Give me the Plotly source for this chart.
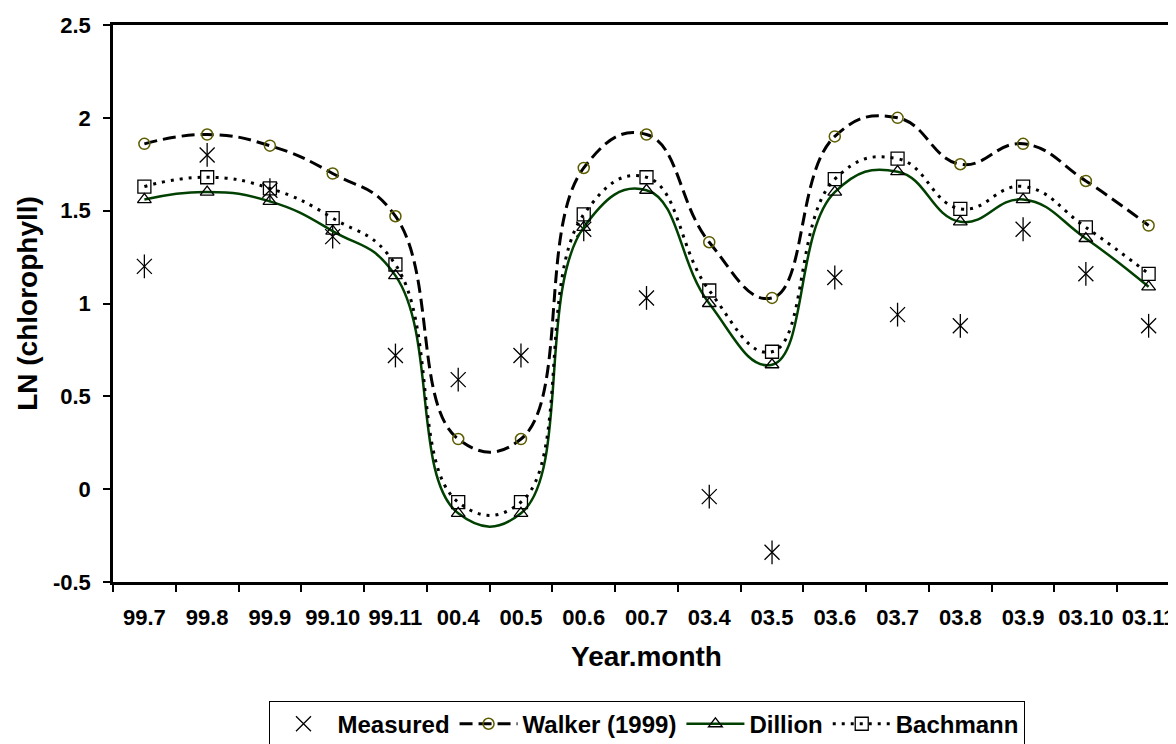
import plotly.graph_objects as go

categories = ["99.7", "99.8", "99.9", "99.10", "99.11", "00.4", "00.5", "00.6", "00.7",
              "03.4", "03.5", "03.6", "03.7", "03.8", "03.9", "03.10", "03.11"]
measured = [1.20, 1.80, 1.61, 1.36, 0.72, 0.59, 0.72, 1.40, 1.03,
            -0.04, -0.34, 1.14, 0.94, 0.88, 1.40, 1.16, 0.88]
walker = [1.86, 1.91, 1.85, 1.70, 1.47, 0.27, 0.27, 1.73, 1.91,
          1.33, 1.03, 1.90, 2.00, 1.75, 1.86, 1.66, 1.42]
dillion = [1.56, 1.60, 1.55, 1.39, 1.15, -0.13, -0.13, 1.41, 1.61,
           1.00, 0.67, 1.60, 1.71, 1.44, 1.56, 1.35, 1.09]
bachmann = [1.63, 1.68, 1.62, 1.46, 1.21, -0.07, -0.07, 1.48, 1.68,
            1.07, 0.74, 1.67, 1.78, 1.51, 1.63, 1.41, 1.16]
y_ticks = [-0.5, 0, 0.5, 1, 1.5, 2, 2.5]
y_tick_text = ["-0.5", "0", "0.5", "1", "1.5", "2", "2.5"]

FONT = "Liberation Sans, Arial, sans-serif"
fig = go.Figure()

fig.add_trace(go.Scatter(
    x=categories, y=measured, mode="markers", name="Measured",
    marker=dict(symbol="x-thin-open", size=15, color="black",
                line=dict(color="black", width=1.3)),
))
fig.add_trace(go.Scatter(
    x=categories, y=measured, mode="markers", showlegend=False, hoverinfo="skip",
    marker=dict(symbol="line-ns-open", size=17, color="black",
                line=dict(color="black", width=1.3)),
))
fig.add_trace(go.Scatter(
    x=categories, y=walker, mode="lines+markers", name="Walker (1999)",
    line=dict(color="black", width=3, dash="13px,6px", shape="spline", smoothing=1.3),
    marker=dict(symbol="circle-open", size=11, color="#5c5c00",
                line=dict(color="#5c5c00", width=1.5)),
))
fig.add_trace(go.Scatter(
    x=categories, y=dillion, mode="lines+markers", name="Dillion",
    line=dict(color="#004000", width=2.5, shape="spline", smoothing=1.3),
    marker=dict(symbol="triangle-up-open", size=12, color="black",
                line=dict(color="black", width=1.3)),
))
fig.add_trace(go.Scatter(
    x=categories, y=bachmann, mode="lines+markers", name="Bachmann",
    line=dict(color="black", width=3, dash="3px,6px", shape="spline", smoothing=1.3),
    marker=dict(symbol="square-open", size=13, color="black",
                line=dict(color="black", width=1.3)),
))

fig.update_layout(
    width=1176, height=744,
    margin=dict(l=105, r=4, t=17, b=159),
    paper_bgcolor="white", plot_bgcolor="white",
    font=dict(family=FONT, color="black"),
    showlegend=True,
    legend=dict(
        orientation="h", x=0.5, xanchor="center", y=-0.213, yanchor="top",
        bordercolor="black", borderwidth=1, itemwidth=58,
        font=dict(family=FONT, size=24, color="black", weight="bold"),
    ),
)
fig.update_xaxes(
    type="category", range=[-0.5, 16.5], tickangle=0, automargin=False,
    tickson="boundaries", ticks="outside", ticklen=7, tickwidth=1.5, tickcolor="black",
    ticklabelstandoff=14,
    showline=True, linecolor="black", linewidth=2.5, mirror=True,
    showgrid=False, zeroline=False,
    tickfont=dict(family=FONT, size=22, color="black", weight="bold"),
    title=dict(text="Year.month", font=dict(family=FONT, size=28, color="black", weight="bold"),
               standoff=18),
)
fig.update_yaxes(
    range=[-0.5, 2.5], tickvals=y_ticks, ticktext=y_tick_text, automargin=False,
    ticks="outside", ticklen=7, tickwidth=1.5, tickcolor="black",
    ticklabelstandoff=8,
    showline=True, linecolor="black", linewidth=2.5, mirror=True,
    showgrid=False, zeroline=False,
    tickfont=dict(family=FONT, size=22, color="black", weight="bold"),
    title=dict(text="LN (chlorophyll)", font=dict(family=FONT, size=28, color="black", weight="bold"),
               standoff=8),
)

fig.write_html("out.html")
